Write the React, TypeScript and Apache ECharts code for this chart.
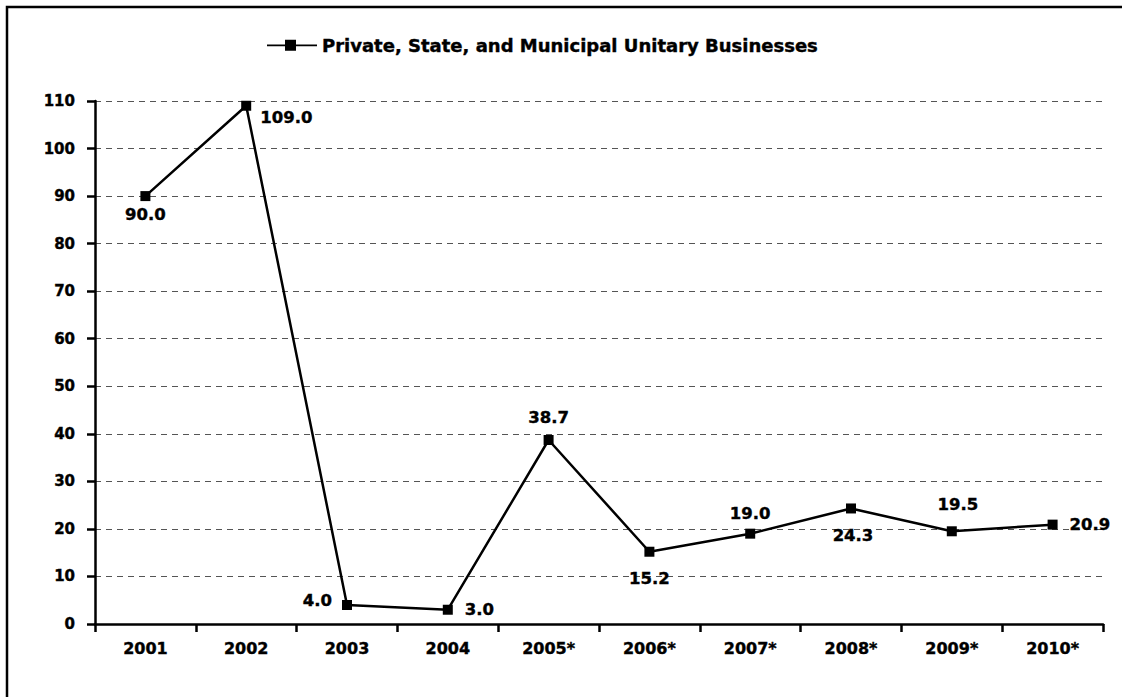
import React, { useEffect, useRef } from "react";
import * as echarts from "echarts";

const categories = ["2001", "2002", "2003", "2004", "2005*", "2006*", "2007*", "2008*", "2009*", "2010*"];
const values = [90.0, 109.0, 4.0, 3.0, 38.7, 15.2, 19.0, 24.3, 19.5, 20.9];
const seriesName = "Private, State, and Municipal Unitary Businesses";

// label placement style per point (style only, not data)
const labelLayout: { position: string; distance: number; offset: [number, number] }[] = [
  { position: "bottom", distance: 5, offset: [0, 0] },
  { position: "right", distance: 9, offset: [0, 12] },
  { position: "left", distance: 10, offset: [0, -4] },
  { position: "right", distance: 12, offset: [0, 0] },
  { position: "top", distance: 9, offset: [0, 0] },
  { position: "bottom", distance: 13, offset: [0, 0] },
  { position: "top", distance: 7, offset: [0, 0] },
  { position: "bottom", distance: 14, offset: [2, 0] },
  { position: "top", distance: 13, offset: [6, 0] },
  { position: "right", distance: 12, offset: [0, 0] },
];

export default function App() {
  const ref = useRef<HTMLDivElement>(null);
  useEffect(() => {
    const chart = echarts.init(ref.current!, null, { renderer: "svg" });
    const font = "'DejaVu Sans', 'Liberation Sans', Arial, sans-serif";
    const heavy = { textBorderColor: "#000", textBorderWidth: 0.4 };
    chart.setOption({
      animation: false,
      backgroundColor: "#ffffff",
      textStyle: { fontFamily: font },
      graphic: [
        {
          type: "polyline",
          shape: { points: [[7, 720], [7, 7], [1140, 7]] },
          style: { stroke: "#000", lineWidth: 2.5, fill: "none" },
          silent: true,
        },
      ],
      legend: {
        left: 262,
        top: 31,
        itemWidth: 50,
        itemHeight: 11,
        itemGap: 4,
        icon: "path://M0,4.8 L18,4.8 L18,0 L29,0 L29,4.8 L50,4.8 L50,6.6 L29,6.6 L29,11 L18,11 L18,6.6 L0,6.6 Z",
        data: [{ name: seriesName, itemStyle: { color: "#000" } }],
        textStyle: { fontFamily: font, fontWeight: "bold", fontSize: 18, color: "#000", padding: [0, 0, 0, 0], ...heavy },
      },
      grid: { left: 95, right: 19, top: 101, bottom: 73, containLabel: false },
      xAxis: {
        type: "category",
        data: categories,
        boundaryGap: true,
        axisLine: { lineStyle: { color: "#000", width: 2.5 } },
        axisTick: { show: true, length: 8, lineStyle: { color: "#000", width: 2.5 }, alignWithLabel: false },
        axisLabel: { fontFamily: font, fontWeight: "bold", fontSize: 16, color: "#000", margin: 16, ...heavy },
        splitLine: { show: false },
      },
      yAxis: {
        type: "value",
        min: 0,
        max: 110,
        interval: 10,
        axisLine: { show: true, lineStyle: { color: "#000", width: 2.5 } },
        axisTick: { show: true, length: 8, inside: false, lineStyle: { color: "#000", width: 2.5 } },
        axisLabel: { fontFamily: font, fontWeight: "bold", fontSize: 15, color: "#000", margin: 20, ...heavy },
        splitLine: { show: true, lineStyle: { color: "#555", width: 1, type: [6, 5] } },
      },
      series: [
        {
          name: seriesName,
          type: "line",
          data: values.map((v, i) => ({
            value: v,
            label: {
              position: labelLayout[i].position,
              distance: labelLayout[i].distance,
              offset: labelLayout[i].offset,
            },
          })),
          symbol: "rect",
          symbolSize: 10,
          lineStyle: { color: "#000", width: 2.5 },
          itemStyle: { color: "#000" },
          label: {
            show: true,
            formatter: (p: any) => Number(p.value).toFixed(1),
            fontFamily: font,
            fontWeight: "bold",
            fontSize: 16.5,
            color: "#000",
            ...heavy,
          },
        },
      ],
    });
    return () => chart.dispose();
  }, []);
  return <div ref={ref} style={{ position: "fixed", left: 0, top: 0, width: 1122, height: 697 }} />;
}
